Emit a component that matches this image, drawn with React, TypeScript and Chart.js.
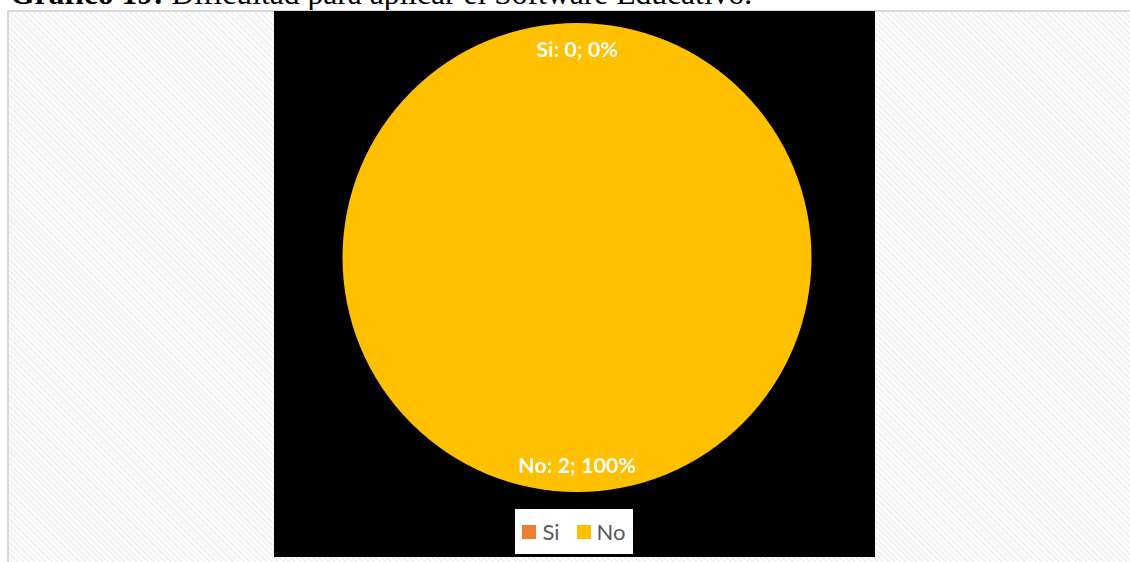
import React, { useEffect, useRef } from "react";
import { Chart, registerables } from "chart.js";

Chart.register(...registerables);

// ---- data ----
const categories: string[] = ["Si", "No"];
const counts: number[] = [0, 2];
const sliceColors: string[] = ["#ED7D31", "#FFC000"];
const titleBold = "Gráfico 19:";
const titleRest = " Dificultad para aplicar el Software Educativo.";

const blackBg = {
  id: "blackBg",
  beforeDraw(chart: any) {
    const { ctx, width, height } = chart;
    ctx.save();
    ctx.fillStyle = "#000000";
    ctx.fillRect(0, 0, width, height);
    ctx.restore();
  },
};

const sliceLabels = {
  id: "sliceLabels",
  afterDatasetsDraw(chart: any) {
    const { ctx } = chart;
    const meta = chart.getDatasetMeta(0);
    const total = counts.reduce((a, b) => a + b, 0);
    ctx.save();
    ctx.font = "bold 21.5px Lato";
    ctx.fillStyle = "#FFFFFF";
    ctx.textAlign = "center";
    ctx.textBaseline = "alphabetic";
    meta.data.forEach((arc: any, i: number) => {
      const p = arc.getProps(["x", "y", "startAngle", "endAngle", "outerRadius"], true);
      const mid = (p.startAngle + p.endAngle) / 2;
      const r = p.outerRadius * 0.885;
      const tx = p.x + Math.cos(mid) * r;
      const ty = p.y + Math.sin(mid) * r;
      const pct = total ? Math.round((counts[i] / total) * 100) : 0;
      const text = `${categories[i]}: ${counts[i]}; ${pct}%`;
      ctx.fillText(text, tx, ty + 7.5);
    });
    ctx.restore();
  },
};

export default function App() {
  const canvasRef = useRef<HTMLCanvasElement | null>(null);

  useEffect(() => {
    if (!canvasRef.current) return;
    const chart = new Chart(canvasRef.current, {
      type: "pie",
      data: {
        labels: categories,
        datasets: [
          {
            data: counts,
            backgroundColor: sliceColors,
            borderWidth: 0,
          },
        ],
      },
      options: {
        responsive: false,
        animation: false,
        layout: { padding: { top: 12, bottom: 65, left: 5, right: 0 } },
        plugins: {
          legend: { display: false },
          tooltip: { enabled: false },
        },
      },
      plugins: [blackBg, sliceLabels],
    });
    return () => chart.destroy();
  }, []);

  return (
    <div
      style={{
        position: "fixed",
        left: 0,
        top: 0,
        width: 1130,
        height: 562,
        overflow: "hidden",
        background: "#ffffff",
      }}
    >
      <div
        style={{
          position: "absolute",
          left: 10,
          top: -21,
          whiteSpace: "nowrap",
          fontFamily: "'Liberation Serif', 'Times New Roman', serif",
          fontSize: 31.6,
          lineHeight: "30px",
          color: "#000",
        }}
      >
        <b>{titleBold}</b>
        {titleRest}
      </div>
      <div
        style={{
          position: "absolute",
          left: 7,
          top: 10,
          width: 1140,
          height: 570,
          borderLeft: "2px solid #d9d9d9",
          borderTop: "2px solid #d9d9d9",
          boxSizing: "border-box",
          background:
            "repeating-linear-gradient(45deg, #ffffff 0px, #ffffff 2px, #f2f2f2 2px, #f2f2f2 4px)",
        }}
      />
      <canvas
        ref={canvasRef}
        width={601}
        height={546}
        style={{ position: "absolute", left: 274, top: 11, width: 601, height: 546 }}
      />
      <div
        style={{
          position: "absolute",
          left: 515,
          top: 509,
          width: 118,
          height: 45,
          background: "#ffffff",
          display: "flex",
          alignItems: "center",
          justifyContent: "center",
          fontFamily: "Lato, sans-serif",
          fontSize: 22,
          color: "#595959",
        }}
      >
        {categories.map((c, i) => (
          <div key={c} style={{ display: "flex", alignItems: "center", marginLeft: i ? 17 : 0 }}>
            <span
              style={{
                display: "inline-block",
                width: 14,
                height: 14,
                flex: "0 0 14px",
                background: sliceColors[i],
                marginRight: 6,
              }}
            />
            <span>{c}</span>
          </div>
        ))}
      </div>
    </div>
  );
}
